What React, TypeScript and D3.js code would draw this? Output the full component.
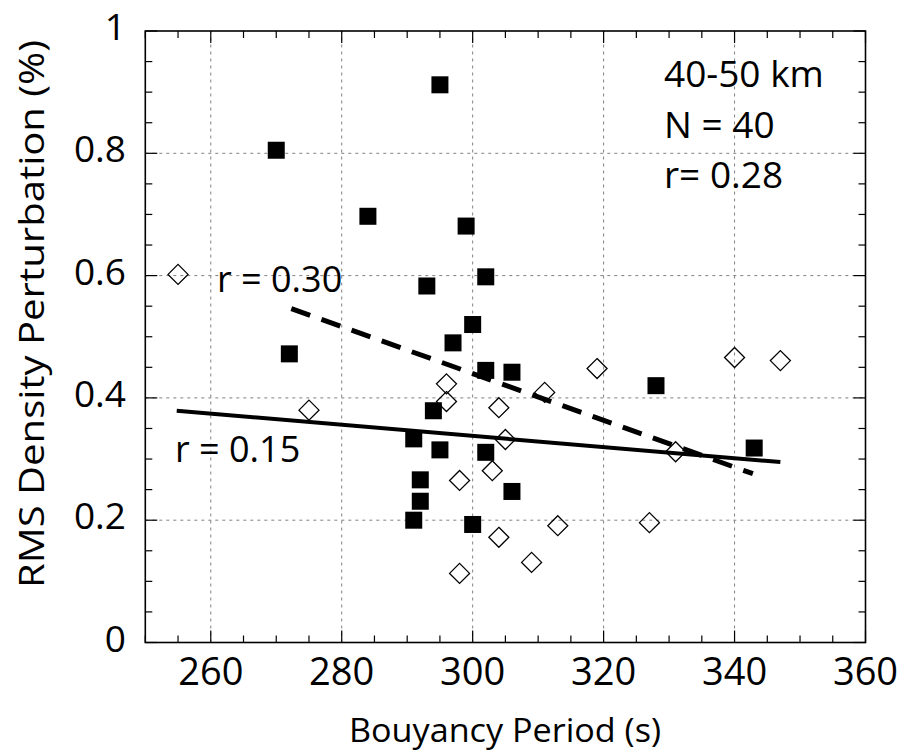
import React from "react";
import * as d3 from "d3";

// Filled squares
const squareX = [270, 272, 284, 295, 299, 302, 293, 300, 297, 302, 306, 328, 294, 291, 295, 302, 292, 306, 292, 291, 300, 343];
const squareY = [0.805, 0.472, 0.697, 0.912, 0.681, 0.598, 0.583, 0.52, 0.49, 0.445, 0.442, 0.42, 0.379, 0.333, 0.315, 0.311, 0.266, 0.247, 0.231, 0.2, 0.193, 0.318];

// Open diamonds
const diamondX = [255, 275, 296, 296, 304, 311, 319, 305, 331, 303, 298, 298, 304, 309, 313, 327, 340, 347];
const diamondY = [0.602, 0.38, 0.423, 0.394, 0.384, 0.409, 0.448, 0.332, 0.312, 0.281, 0.265, 0.113, 0.172, 0.131, 0.191, 0.196, 0.466, 0.461];

// Fit lines (endpoints)
const dashedFitX = [272.3, 342.8];
const dashedFitY = [0.546, 0.276];
const solidFitX = [254.8, 347];
const solidFitY = [0.379, 0.295];

const xTicks = [260, 280, 300, 320, 340, 360];
const yTicks = [0, 0.2, 0.4, 0.6, 0.8, 1];
const yTickLabels = ["0", "0.2", "0.4", "0.6", "0.8", "1"];
const xGrid = [260, 280, 300, 320, 340];
const yGrid = [0.2, 0.4, 0.6, 0.8];

const infoLines = ["40-50 km", "N = 40", "r= 0.28"];
const dashedLabel = "r = 0.30";
const solidLabel = "r = 0.15";
const xTitle = "Bouyancy Period (s)";
const yTitle = "RMS Density Perturbation (%)";

const W = 901;
const H = 752;
const FONT = "'Open Sans', 'DejaVu Sans', sans-serif";

export default function App() {
  const x = d3.scaleLinear().domain([250, 360]).range([145.3, 865.5]);
  const y = d3.scaleLinear().domain([0, 1]).range([642.5, 31]);
  const [x0, x1] = x.range();
  const [y0, y1] = y.range();

  const xMinor = d3.range(250, 360.001, 5);
  const yMinor = d3.range(0, 1.0001, 0.05);
  const isMajorX = (v: number) => Math.round(v) % 20 === 0;
  const isMajorY = (v: number) => Math.round(v * 20) % 4 === 0;

  const line = d3.line<[number, number]>().x((d) => x(d[0])).y((d) => y(d[1]));
  const dashedPts: [number, number][] = dashedFitX.map((v, i) => [v, dashedFitY[i]]);
  const solidPts: [number, number][] = solidFitX.map((v, i) => [v, solidFitY[i]]);

  const sq = 17;
  const dr = 10;

  return (
    <svg width={W} height={H} style={{ position: "absolute", left: 0, top: 0, background: "#fff" }} fontFamily={FONT}>
      <rect x={0} y={0} width={W} height={H} fill="#fff" />
      {/* grid */}
      {xGrid.map((v) => (
        <line key={"gx" + v} x1={x(v)} x2={x(v)} y1={y0} y2={y1} stroke="#808080" strokeWidth={1} strokeDasharray="3,4" />
      ))}
      {yGrid.map((v) => (
        <line key={"gy" + v} x1={x0} x2={x1} y1={y(v)} y2={y(v)} stroke="#808080" strokeWidth={1} strokeDasharray="3,4" />
      ))}
      {/* ticks */}
      {xMinor.map((v) => {
        const len = isMajorX(v) ? 12 : 7;
        return (
          <g key={"tx" + v}>
            <line x1={x(v)} x2={x(v)} y1={y0} y2={y0 - len} stroke="#000" strokeWidth={1.2} />
            <line x1={x(v)} x2={x(v)} y1={y1} y2={y1 + len} stroke="#000" strokeWidth={1.2} />
          </g>
        );
      })}
      {yMinor.map((v) => {
        const len = isMajorY(v) ? 12 : 7;
        return (
          <g key={"ty" + v}>
            <line x1={x0} x2={x0 + len} y1={y(v)} y2={y(v)} stroke="#000" strokeWidth={1.2} />
            <line x1={x1} x2={x1 - len} y1={y(v)} y2={y(v)} stroke="#000" strokeWidth={1.2} />
          </g>
        );
      })}
      {/* frame */}
      <rect x={x0} y={y1} width={x1 - x0} height={y0 - y1} fill="none" stroke="#000" strokeWidth={1.6} />

      {/* tick labels */}
      {xTicks.map((v) => (
        <text key={"xl" + v} x={x(v)} y={685} textAnchor="middle" fontSize={38} fill="#000">
          {v}
        </text>
      ))}
      {yTicks.map((v, i) => (
        <text key={"yl" + v} x={126} y={y(v) + 9} textAnchor="end" fontSize={37} fill="#000">
          {yTickLabels[i]}
        </text>
      ))}

      {/* axis titles */}
      <text x={505} y={742} textAnchor="middle" fontSize={33} fill="#000" textLength={312} lengthAdjust="spacingAndGlyphs">
        {xTitle}
      </text>
      <text
        transform={`translate(44,314) rotate(-90)`}
        textAnchor="middle"
        fontSize={34}
        fill="#000"
        textLength={548}
        lengthAdjust="spacingAndGlyphs"
      >
        {yTitle}
      </text>

      {/* fit lines */}
      <path d={line(solidPts) || ""} stroke="#000" strokeWidth={4} fill="none" />
      <path d={line(dashedPts) || ""} stroke="#000" strokeWidth={5} fill="none" strokeDasharray="20,12" />

      {/* diamonds */}
      {diamondX.map((v, i) => (
        <path
          key={"d" + i}
          d={`M${x(v)},${y(diamondY[i]) - dr}L${x(v) + dr},${y(diamondY[i])}L${x(v)},${y(diamondY[i]) + dr}L${x(v) - dr},${y(diamondY[i])}Z`}
          fill="none"
          stroke="#000"
          strokeWidth={1.3}
        />
      ))}
      {/* squares */}
      {squareX.map((v, i) => (
        <rect key={"s" + i} x={x(v) - sq / 2} y={y(squareY[i]) - sq / 2} width={sq} height={sq} fill="#000" />
      ))}

      {/* annotations */}
      <text x={217} y={292} fontSize={36} fill="#000">
        {dashedLabel}
      </text>
      <text x={175} y={462} fontSize={36} fill="#000">
        {solidLabel}
      </text>
      {infoLines.map((t, i) => (
        <text key={"info" + i} x={664} y={87 + i * 50.5} fontSize={37} fill="#000">
          {t}
        </text>
      ))}
    </svg>
  );
}
